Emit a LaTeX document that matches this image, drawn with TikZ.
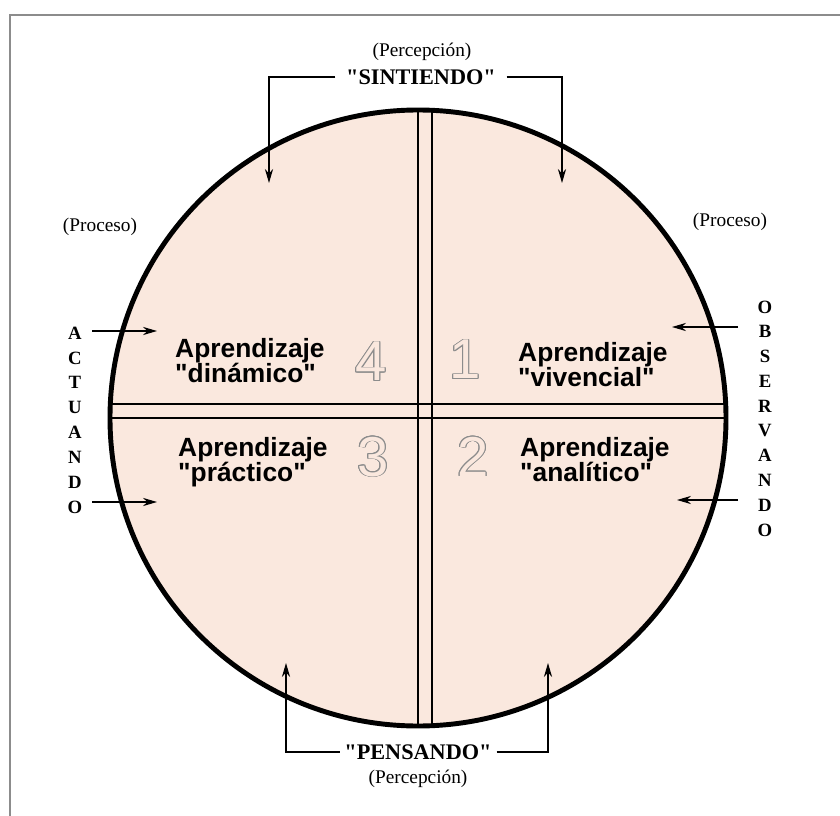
\documentclass[tikz,border=0pt]{standalone}
\usepackage{fontspec}
\setmainfont{Liberation Serif}
\setsansfont{Liberation Sans}
\usepackage[copies]{contour}
\usetikzlibrary{arrows.meta}
\definecolor{peach}{RGB}{250,232,222}
\definecolor{rim}{RGB}{140,140,140}
\contourlength{0.6pt}
\newcommand\qt[1]{\textquotedbl#1\textquotedbl}

\begin{document}
\begin{tikzpicture}[
  x=0.03cm, y=-0.03cm,
  >={Stealth[length=12pt,width=7pt]},
  frame/.style={draw=rim, line width=2.4pt},
  arr/.style={->, line width=1.1pt},
  quad/.style={anchor=north west, inner sep=0pt, align=left,
               font=\sffamily\bfseries\fontsize{22.5}{21.5}\selectfont},
  num/.style={inner sep=0pt, text=peach, font=\sffamily\fontsize{48}{48}\selectfont},
  gerund/.style={inner ysep=0pt, font=\bfseries\fontsize{19}{21}\selectfont},
  paren/.style={inner sep=0pt, font=\fontsize{16.5}{18}\selectfont},
  vlet/.style={inner sep=0pt, font=\bfseries\fontsize{16}{17}\selectfont}
]
  \useasboundingbox (0,0) rectangle (840,816);
  \draw[frame] (840,15) -| (10,816);

  \fill[peach] (418,418) circle (308);
  \begin{scope}
    \clip (418,418) circle (308);
    \draw[line width=1.8pt] (418,100) -- (418,740);
    \draw[line width=1.8pt] (432,100) -- (432,740);
    \draw[line width=1.8pt] (100,404) -- (740,404);
    \draw[line width=1.8pt] (100,418) -- (740,418);
  \end{scope}
  \draw[line width=4.2pt] (418,418) circle (308);

  \node[quad] (q4) at (175,338) {Aprendizaje\\\qt{dinámico}};
  \node[quad] (q3) at (178,437) {Aprendizaje\\\qt{práctico}};
  \node[quad] (q1) at (518,342) {Aprendizaje\\\qt{vivencial}};
  \node[quad] (q2) at (520,437) {Aprendizaje\\\qt{analítico}};

  \node[num] (n4) at (371,362) {\contour{rim}{4}};
  \node[num] (n3) at (373,457) {\contour{rim}{3}};
  \node[num] (n1) at (465,360) {\contour{rim}{1}};
  \node[num] (n2) at (473,457) {\contour{rim}{2}};

  \node[paren] (pt) at (422,52) {(Percepción)};
  \node[gerund, inner xsep=9pt] (sint) at (421,77) {\qt{SINTIENDO}};
  \coordinate (sl) at (269,183);
  \coordinate (sr) at (562,183);
  \draw[arr] (sint.west) -| (sl);
  \draw[arr] (sint.east) -| (sr);

  \node[gerund, inner xsep=4pt] (pens) at (418,752) {\qt{PENSANDO}};
  \node[paren] (pb) at (418,779) {(Percepción)};
  \coordinate (pl) at (286,663);
  \coordinate (pr) at (548,663);
  \draw[arr] (pens.west) -| (pl);
  \draw[arr] (pens.east) -| (pr);

  \node[paren] (prl) at (100,227) {(Proceso)};
  \node[paren] (prr) at (730,222) {(Proceso)};

  \foreach \l [count=\i from 0] in {A,C,T,U,A,N,D,O}
    \node[vlet] (act\i) at (75,333+24.9*\i) {\l};
  \foreach \l [count=\i from 0] in {O,B,S,E,R,V,A,N,D,O}
    \node[vlet] (obs\i) at (765,307+24.8*\i) {\l};

  \coordinate (al) at (157,331);
  \coordinate (ab) at (157,502);
  \draw[arr] (92,331) -- (al);
  \draw[arr] (92,502) -- (ab);
  \coordinate (ol) at (672,327);
  \coordinate (ob) at (677,500);
  \draw[arr] (738,327) -- (ol);
  \draw[arr] (738,500) -- (ob);
\end{tikzpicture}
\end{document}
